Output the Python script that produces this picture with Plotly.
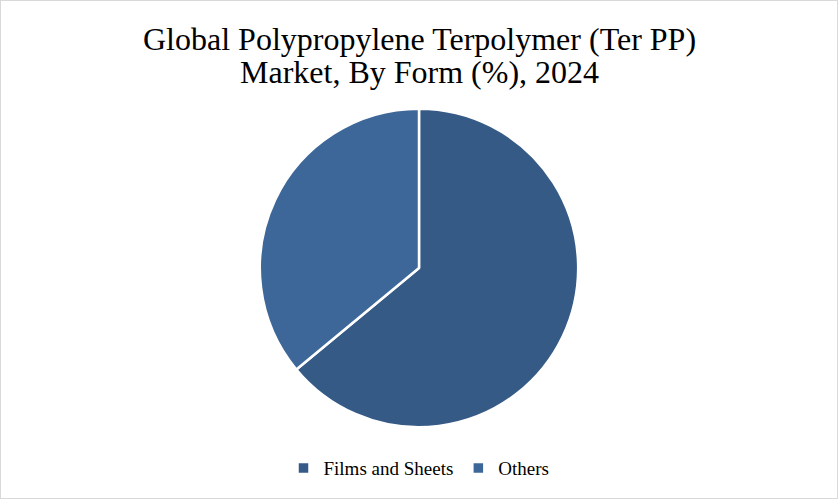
import plotly.graph_objects as go

# data
labels = ["Films and Sheets", "Others"]
shares = [64.0, 36.0]
colors = ["#365A86", "#3E6799"]

title_lines = [
    "Global Polypropylene Terpolymer (Ter PP)",
    "Market, By Form (%), 2024",
]
title_y = [0.922, 0.856]

fig = go.Figure()
fig.add_trace(
    go.Pie(
        labels=labels,
        values=shares,
        sort=False,
        direction="clockwise",
        rotation=0,
        textinfo="none",
        hoverinfo="label+percent",
        marker=dict(colors=colors, line=dict(color="white", width=2.5)),
        domain=dict(x=[0, 1], y=[0.144, 0.782]),
    )
)

# two-line title as separate annotations so the line spacing matches
for line, ypos in zip(title_lines, title_y):
    fig.add_annotation(
        text=line,
        xref="paper",
        yref="paper",
        x=0.5,
        y=ypos,
        xanchor="center",
        yanchor="middle",
        showarrow=False,
        font=dict(size=32, family="Liberation Serif, serif", color="black"),
    )

fig.update_layout(
    width=838,
    height=499,
    margin=dict(l=0, r=0, t=0, b=0),
    paper_bgcolor="white",
    plot_bgcolor="white",
    font=dict(family="Liberation Serif, DejaVu Serif, serif", color="black"),
    showlegend=True,
    legend=dict(
        orientation="h",
        x=0.5,
        xanchor="center",
        y=0.062,
        yanchor="middle",
        font=dict(size=19, color="black"),
        itemwidth=30,
    ),
    shapes=[
        dict(
            type="rect",
            xref="paper",
            yref="paper",
            x0=0,
            x1=1,
            y0=0,
            y1=1,
            line=dict(color="#D9D9D9", width=2),
        )
    ],
)

fig.write_html(
    "out.html",
    config={"displayModeBar": False},
    post_script="document.body.style.margin='0px';",
)
